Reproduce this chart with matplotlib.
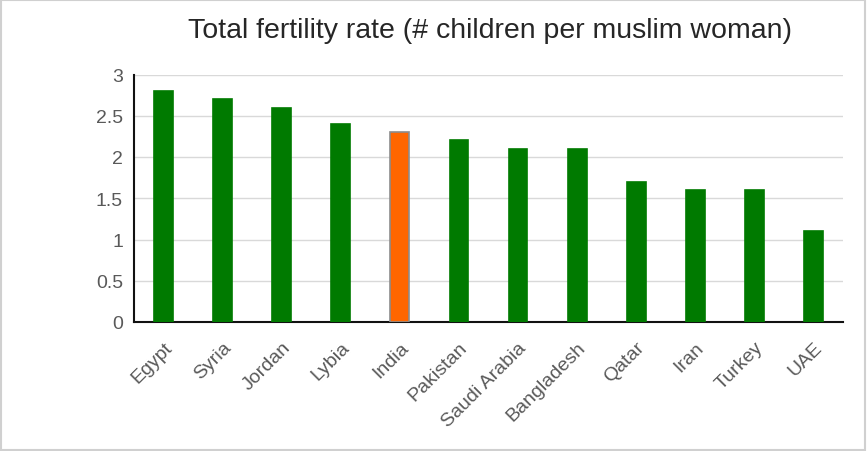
import matplotlib

matplotlib.use("Agg")
import matplotlib.pyplot as plt

countries = ["Egypt", "Syria", "Jordan", "Lybia", "India", "Pakistan",
             "Saudi Arabia", "Bangladesh", "Qatar", "Iran", "Turkey", "UAE"]
fertility = [2.8, 2.7, 2.6, 2.4, 2.3, 2.2, 2.1, 2.1, 1.7, 1.6, 1.6, 1.1]
highlight = "India"

plt.rcParams["font.family"] = ["Liberation Sans", "DejaVu Sans"]

fig = plt.figure(figsize=(8.67, 4.52), dpi=100)
ax = fig.add_axes([134 / 867, 1 - 323 / 452, (843 - 134) / 867, (323 - 75.5) / 452])

colors = ["#ff6600" if c == highlight else "#007a00" for c in countries]
edges = ["#8c8c8c" if c == highlight else "#007a00" for c in countries]
x = range(len(countries))
ax.bar(x, fertility, width=0.32, color=colors, edgecolor=edges, linewidth=1.2, zorder=3)

ax.set_xlim(-0.5, len(countries) - 0.5)
ax.set_ylim(0, 3)
ax.set_yticks([0, 0.5, 1, 1.5, 2, 2.5, 3])
ax.set_yticklabels(["0", "0.5", "1", "1.5", "2", "2.5", "3"])
ax.set_xticks(list(x))
ax.set_xticklabels(countries, rotation=45, ha="right", rotation_mode="anchor")
ax.tick_params(axis="both", length=0, labelsize=14, colors="#595959", pad=8)
ax.tick_params(axis="x", pad=12)
ax.grid(axis="y", color="#d9d9d9", linewidth=1, zorder=0)
for s in ["top", "right"]:
    ax.spines[s].set_visible(False)
for s in ["left", "bottom"]:
    ax.spines[s].set_color("#111111")
    ax.spines[s].set_linewidth(1.5)

fig.text(490 / 867, 1 - 31 / 452, "Total fertility rate (# children per muslim woman)",
         ha="center", va="center", fontsize=20.5, color="#262626")

fig.patches.append(plt.Rectangle((0.001, 0.002), 0.997, 0.996, transform=fig.transFigure,
                                 fill=False, edgecolor="#d0d0d0", linewidth=1.5))

fig.savefig("out.png", dpi=100)
plt.close(fig)
